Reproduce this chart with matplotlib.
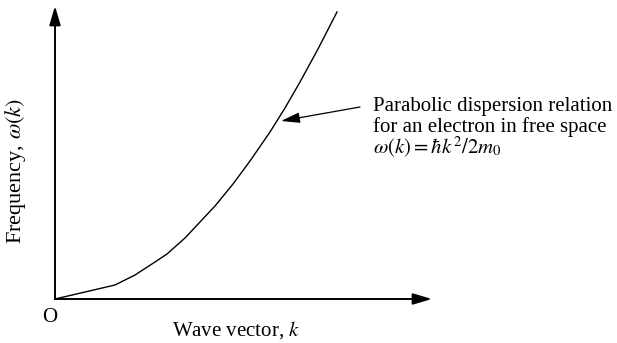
import matplotlib
matplotlib.use('Agg')
import matplotlib.pyplot as plt

# Values (arbitrary units)
k_vals = [0, 30, 60, 80, 100, 112, 130, 145, 160, 178, 195, 215, 230, 245, 263, 282]
omega_vals = [0, 7, 14, 24, 37, 45, 61, 77, 93, 115, 138, 167, 191, 217, 250, 287]

x_label = 'Wave vector, $k$'
y_label = r'Frequency, $\omega(k)$'
note_lines = ['Parabolic dispersion relation',
              'for an electron in free space',
              r'$\omega(k) = \hbar k^2/2m_0$']

plt.rcParams['font.family'] = ['Liberation Serif', 'DejaVu Serif']
plt.rcParams['mathtext.fontset'] = 'stix'

fig = plt.figure(figsize=(6.17, 3.43), dpi=100)
W, H = 617, 343
ax = fig.add_axes([55 / W, 44 / H, (432 - 55) / W, (299 - 6) / H])
ax.set_xlim(0, 377)
ax.set_ylim(0, 293)
for s in ax.spines.values():
    s.set_visible(False)
ax.set_xticks([])
ax.set_yticks([])

# axes with arrows
ap = dict(arrowstyle='-|>,head_length=11.5,head_width=3.4', mutation_scale=1,
          lw=1.4, color='black', shrinkA=0, shrinkB=0)
ax.annotate('', xy=(1, 0), xytext=(0, 0), xycoords='axes fraction', arrowprops=ap)
ax.annotate('', xy=(0, 1), xytext=(0, 0), xycoords='axes fraction', arrowprops=ap)

# dispersion curve
ax.plot(k_vals, omega_vals, color='black', lw=1.0, clip_on=False)

# pointer to curve
ax.annotate('', xy=(226, 178), xytext=(305, 192),
            arrowprops=dict(arrowstyle='-|>,head_length=11.5,head_width=3.2',
                            mutation_scale=1, lw=0.9, color='black',
                            shrinkA=0, shrinkB=0))

fs = 15
for line, yy in zip(note_lines, [188, 167, 145]):
    ax.text(318, yy, line, fontsize=fs, va='baseline', ha='left', clip_on=False)

ax.text(-5, -19, 'O', fontsize=fs, ha='center', va='center', clip_on=False)
fig.text(236 / W, 1 - 330 / H, x_label, fontsize=fs, ha='center', va='center')
fig.text(16 / W, 1 - 171 / H, y_label, fontsize=16, ha='center', va='center',
         rotation=90)

fig.savefig('out.png', dpi=100)
